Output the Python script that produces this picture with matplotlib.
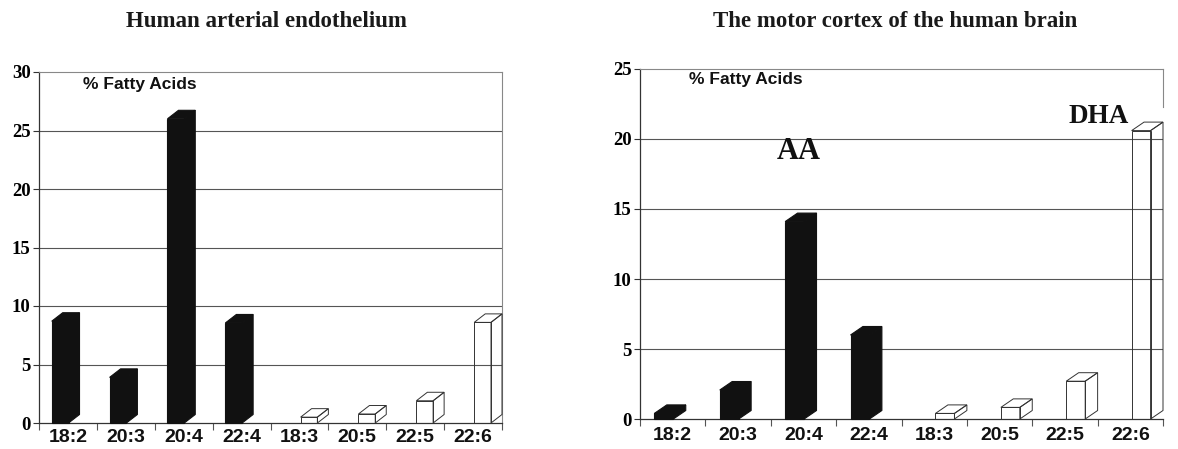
import numpy as np
import matplotlib
matplotlib.use("Agg")
import matplotlib.pyplot as plt
from matplotlib.patches import Polygon

# data
categories = ["18:2", "20:3", "20:4", "22:4", "18:3", "20:5", "22:5", "22:6"]
is_n6 = [True, True, True, True, False, False, False, False]
arterial = [8.7, 3.9, 26.0, 8.55, 0.5, 0.77, 1.9, 8.6]
brain = [0.4, 2.07, 14.1, 6.0, 0.4, 0.83, 2.7, 20.6]
titles = ["Human arterial endothelium", "The motor cortex of the human brain"]
ylims = [30, 25]

SERIF = "Liberation Serif"
SANS = "Liberation Sans"


def draw_bar(ax, x0, w, h, dx, dy, black):
    front = [(x0, 0), (x0 + w, 0), (x0 + w, h), (x0, h)]
    top = [(x0, h), (x0 + w, h), (x0 + w + dx, h + dy), (x0 + dx, h + dy)]
    side = [(x0 + w, 0), (x0 + w + dx, dy), (x0 + w + dx, h + dy), (x0 + w, h)]
    if black:
        fc, ec, lw = "#111111", "#111111", 0.8
    else:
        fc, ec, lw = "none", "#333333", 0.7
    for pts in (front, top, side):
        ax.add_patch(Polygon(pts, closed=True, facecolor=fc, edgecolor=ec,
                             linewidth=lw, zorder=3, clip_on=False))


def panel(ax, values, ymax, title, title_x, label_y, xpad):
    ax.set_xlim(0, len(categories))
    ax.set_ylim(0, ymax)

    ax.set_yticks(np.arange(0, ymax + 1, 5))
    ax.set_yticklabels([str(v) for v in range(0, ymax + 1, 5)],
                       fontfamily=SERIF, fontweight="bold", fontsize=13.5)
    ax.tick_params(axis="y", length=4, width=0.8, color="#333333", pad=2)

    ax.set_xticks(range(len(categories) + 1))
    ax.set_xticklabels([])
    ax.tick_params(axis="x", which="major", length=5, width=0.8, color="#555555")
    ax.set_xticks(np.arange(len(categories)) + 0.5, minor=True)
    ax.set_xticklabels(categories, minor=True, fontfamily=SANS,
                       fontweight="bold", fontsize=14, color="#111111")
    ax.tick_params(axis="x", which="minor", length=0, pad=xpad)

    for v in range(5, ymax, 5):
        ax.axhline(v, color="#555555", linewidth=0.8, zorder=1)

    for side in ("top", "right"):
        ax.spines[side].set_color("#888888")
        ax.spines[side].set_linewidth(0.8)
    for side in ("left", "bottom"):
        ax.spines[side].set_color("#333333")
        ax.spines[side].set_linewidth(0.9)

    fig = ax.figure
    h_px = ax.get_position().height * fig.get_figheight() * fig.dpi
    dy = 8.5 * ymax / h_px
    dx = 0.19
    w = 0.29
    for i, val in enumerate(values):
        c = i + 0.5
        if is_n6[i]:
            draw_bar(ax, c - 0.28, w, val, dx, dy, True)
        else:
            draw_bar(ax, c + 0.02, w, val, dx, dy, False)

    ax.text(0.094, label_y, "% Fatty Acids", transform=ax.transAxes,
            fontfamily=SANS, fontweight="bold", fontsize=12.5,
            ha="left", va="center", color="#111111")

    fig.text(title_x, 0.952, title, fontfamily=SERIF, fontweight="bold",
             fontsize=16.5, ha="center", va="center", color="#1a1a1a")


fig = plt.figure(figsize=(11.78, 4.49), dpi=100)
ax1 = fig.add_axes([39 / 1178, 26 / 449, 463 / 1178, 351 / 449])
ax2 = fig.add_axes([640 / 1178, 30 / 449, 523 / 1178, 350 / 449])

panel(ax1, arterial, ylims[0], titles[0], 266 / 1178, 0.963, 4)
panel(ax2, brain, ylims[1], titles[1], 895 / 1178, 0.969, 6)

# right panel frame only runs down a little from the top
ax2.spines["right"].set_bounds(22.3, 25)

ax2.text(2.43, 19.1, "AA", fontfamily=SERIF, fontweight="bold",
         fontsize=22, ha="center", va="center", color="#111111")
ax2.text(7.02, 21.6, "DHA", fontfamily=SERIF, fontweight="bold",
         fontsize=19.5, ha="center", va="center", color="#111111")

plt.savefig("out.png", dpi=100)
